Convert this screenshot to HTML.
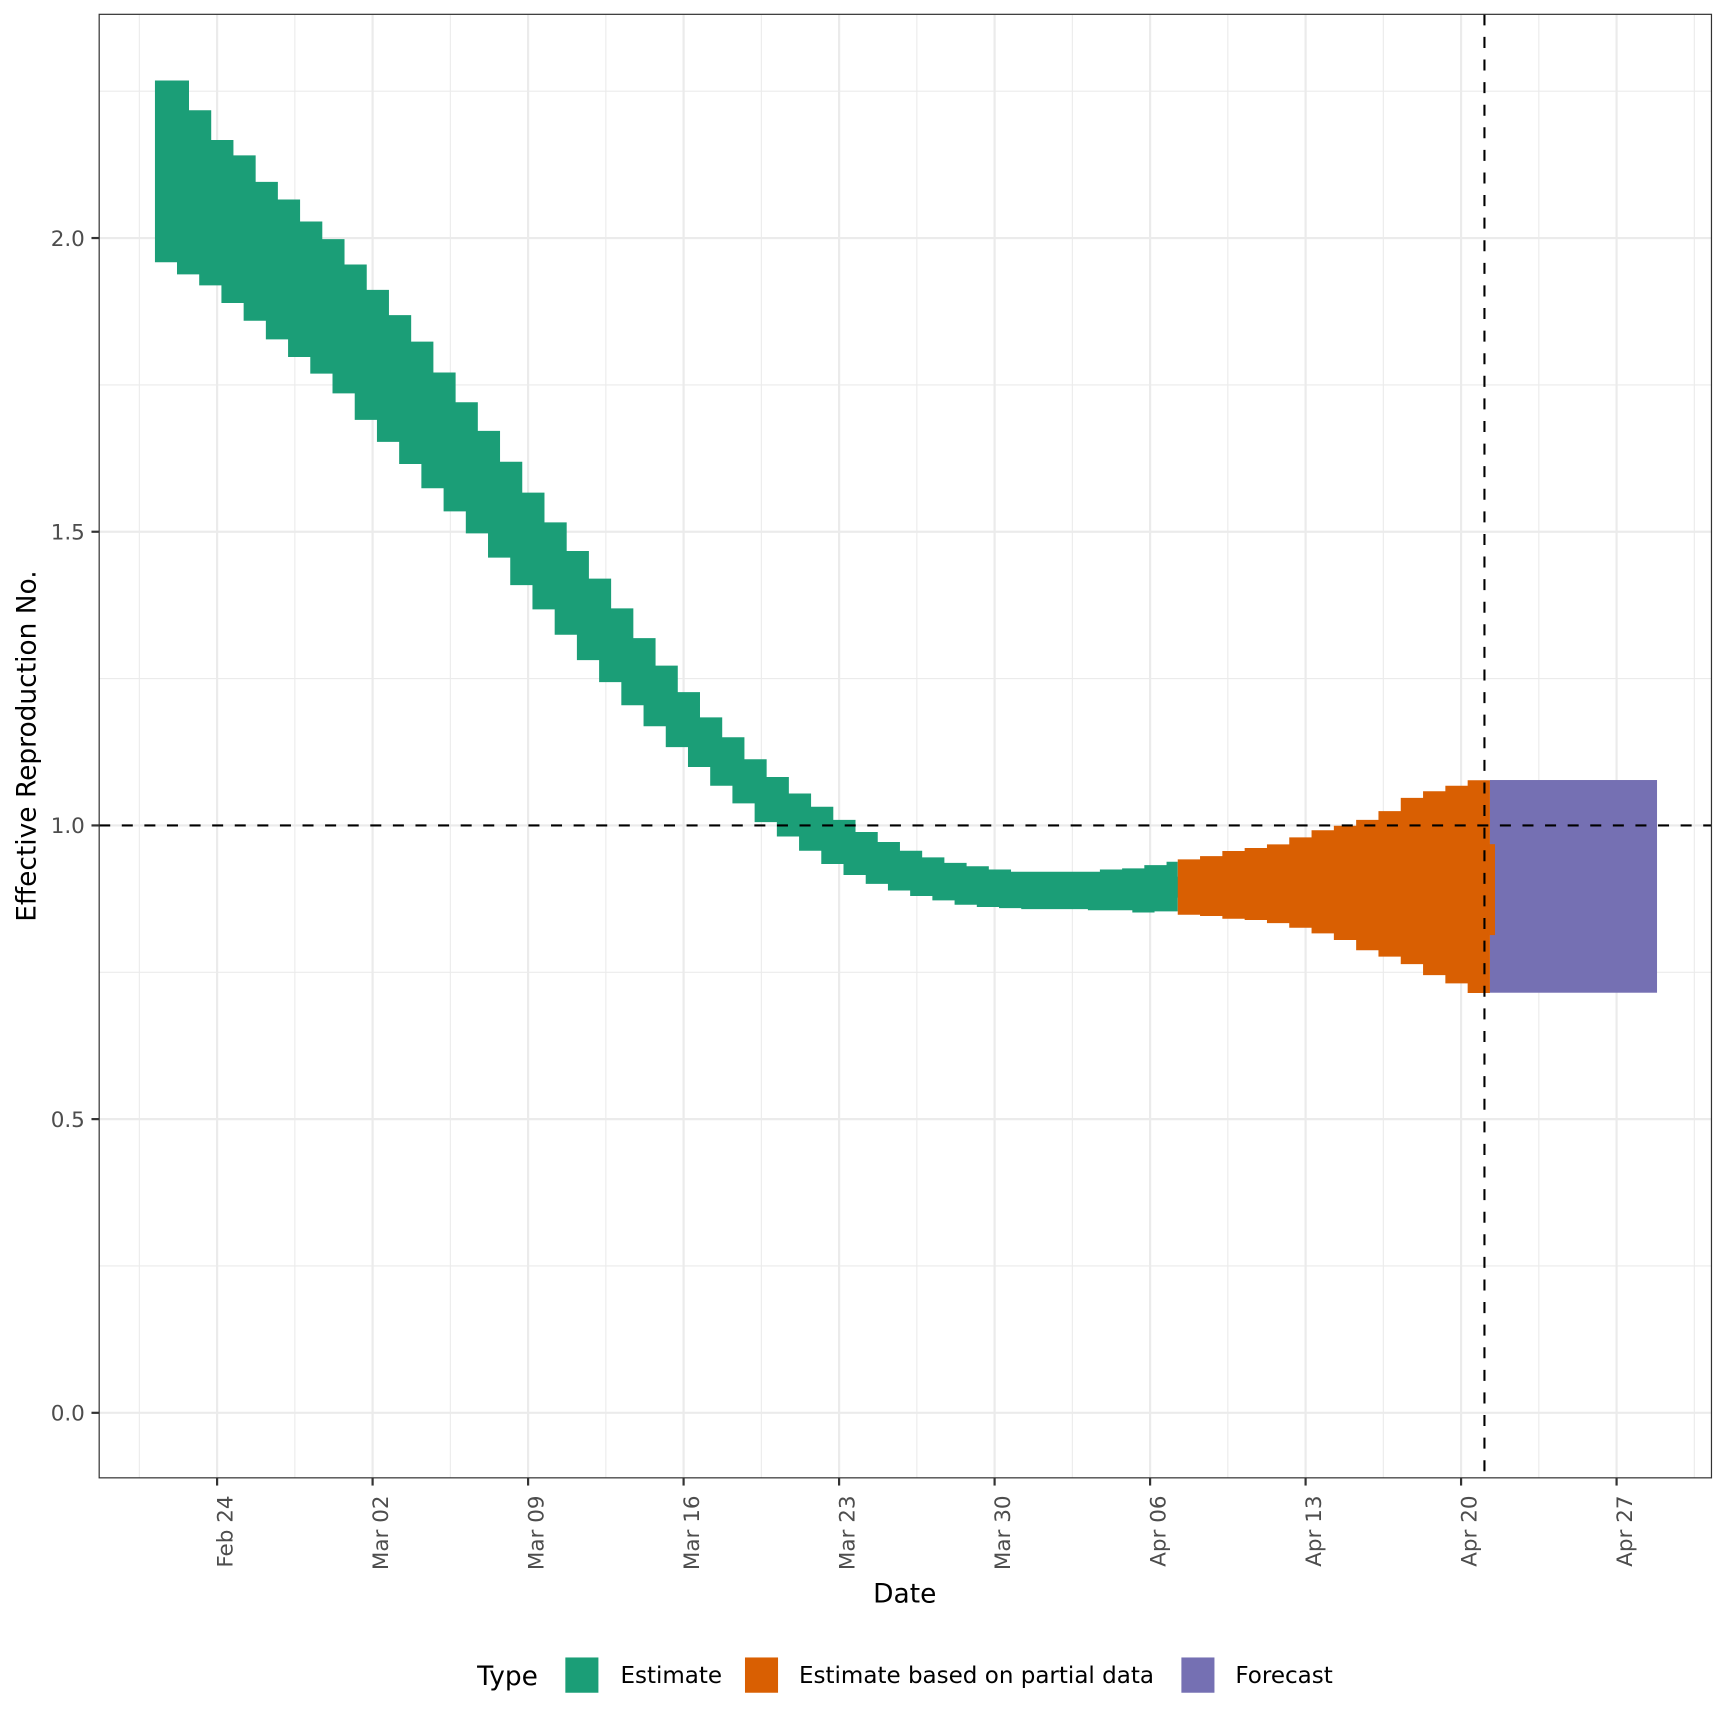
<!DOCTYPE html>
<html><head><meta charset="utf-8">
<style>
html,body{margin:0;padding:0;background:#fff;}
svg{display:block;font-family:"DejaVu Sans","Liberation Sans",sans-serif;}
</style></head>
<body>
<svg id="s" width="1728" height="1728" viewBox="0 0 1568 1568" xmlns="http://www.w3.org/2000/svg">
<rect x="0" y="0" width="1568" height="1568" fill="#fff"/>
<g id="grid"></g>
<g id="data"></g>
<line x1="90" y1="749" x2="1553" y2="749" stroke="#000" stroke-width="1.9" stroke-dasharray="10,10.5"/>
<line x1="1347" y1="13" x2="1347" y2="1341" stroke="#000" stroke-width="1.9" stroke-dasharray="10,10.5"/>
<rect x="90" y="13" width="1463" height="1328" fill="none" stroke="#333" stroke-width="1.1"/>
<g id="ticks" fill="#4d4d4d" font-size="19.5"></g>
<text x="821" y="1454" font-size="24" text-anchor="middle" fill="#000">Date</text>
<text transform="translate(32,677) rotate(-90)" font-size="24" text-anchor="middle" fill="#000">Effective Reproduction No.</text>
<g font-size="20.9" fill="#000">
<text x="433" y="1529" font-size="24">Type</text>
<rect x="513" y="1504" width="30" height="32" fill="#1b9e77"/>
<text x="563" y="1527">Estimate</text>
<rect x="676" y="1504" width="30" height="32" fill="#d95f02"/>
<text x="725" y="1527">Estimate based on partial data</text>
<rect x="1072" y="1504" width="30" height="32" fill="#7570b3"/>
<text x="1121" y="1527">Forecast</text>
</g>
</svg>
<script>
(function(){
var NS="http://www.w3.org/2000/svg";
function el(t,a,p){var e=document.createElementNS(NS,t);for(var k in a)e.setAttribute(k,a[k]);p.appendChild(e);return e;}
var grid=document.getElementById('grid'),data=document.getElementById('data'),ticks=document.getElementById('ticks');
var wk=141.1;
for(var i=-1;i<10;i++){var x=197+wk*i+wk/2;if(x>90&&x<1553)el('line',{x1:x,y1:13,x2:x,y2:1341,stroke:'#ebebeb','stroke-width':1},grid);}
[0.25,0.75,1.25,1.75,2.25].forEach(function(v){var y=1282-533*v;el('line',{x1:90,y1:y,x2:1553,y2:y,stroke:'#ebebeb','stroke-width':1},grid);});
var labs=["Feb 24","Mar 02","Mar 09","Mar 16","Mar 23","Mar 30","Apr 06","Apr 13","Apr 20","Apr 27"];
labs.forEach(function(l,i){var x=197+wk*i;
el('line',{x1:x,y1:13,x2:x,y2:1341,stroke:'#ebebeb','stroke-width':2},grid);
el('line',{x1:x,y1:1341,x2:x,y2:1348,stroke:'#333','stroke-width':2},ticks);
var t=el('text',{transform:'translate('+(x+14)+',1357) rotate(-90)','text-anchor':'end'},ticks);t.textContent=l;});
["0.0","0.5","1.0","1.5","2.0"].forEach(function(l,i){var y=1282-266.5*i;
el('line',{x1:90,y1:y,x2:1553,y2:y,stroke:'#ebebeb','stroke-width':2},grid);
el('line',{x1:83,y1:y,x2:90,y2:y,stroke:'#333','stroke-width':2},ticks);
var t=el('text',{x:77,y:y+7,'text-anchor':'end'},ticks);t.textContent=l;});
var gt=[73,100,127,141,165,181,201,217,240,263,286,310,338,365,391,419,447,474,500,525,552,579,604,628,651,669,689,705,720,732,744,755,764,772,778,783,786,789,791,791,791,791,789,788,785,782];
var gb=[238,249,259,275,291,308,324,339,357,381,401,421,443,464,484,506,531,553,576,599,619,640,659,678,696,713,729,746,759,772,784,794,802,808,813,817,821,823,824,825,825,825,826,826,828,827];
var d=20.16,x0=140.6,xe=1068.7,pts=[];
for(var k=0;k<gt.length;k++){var a=k==0?x0:171.5+d*(k-1),b=Math.min(171.5+d*k,xe);if(k==gt.length-1)b=xe;pts.push(a+','+gt[k],b+','+gt[k]);}
var bp=[];
for(var k=0;k<gb.length;k++){var a=k==0?x0:160.6+d*(k-1),b=160.6+d*k;if(k==gb.length-1)b=xe;bp.push(a+','+gb[k],b+','+gb[k]);}
bp.reverse();
el('polygon',{points:pts.concat(bp).join(' '),fill:'#1b9e77'},data);
el('rect',{x:1066,y:795.5,width:8,height:19,fill:'#1b9e77'},data);
var ot=[779.8,776.8,772.2,769.5,766.2,759.8,753.4,749.3,744,736,724,718,713,708];
var ob=[830,831.2,833.7,834.8,837.6,841.8,846.9,853,862.3,868.1,874.8,884.8,892.3,901.1];
var od=(1352-1068.7)/14,op=[],obp=[];
for(var k=0;k<14;k++){var a=1068.7+od*k,b=a+od;op.push(a+','+ot[k],b+','+ot[k]);obp.push(a+','+ob[k],b+','+ob[k]);}
obp.reverse();
el('polygon',{points:op.concat(obp).join(' '),fill:'#d95f02'},data);
el('rect',{x:1352,y:707.8,width:151.6,height:193,fill:'#7570b3'},data);
el('rect',{x:1350,y:766,width:6.6,height:82.5,fill:'#d95f02'},data);
})();
</script>
</body></html>
